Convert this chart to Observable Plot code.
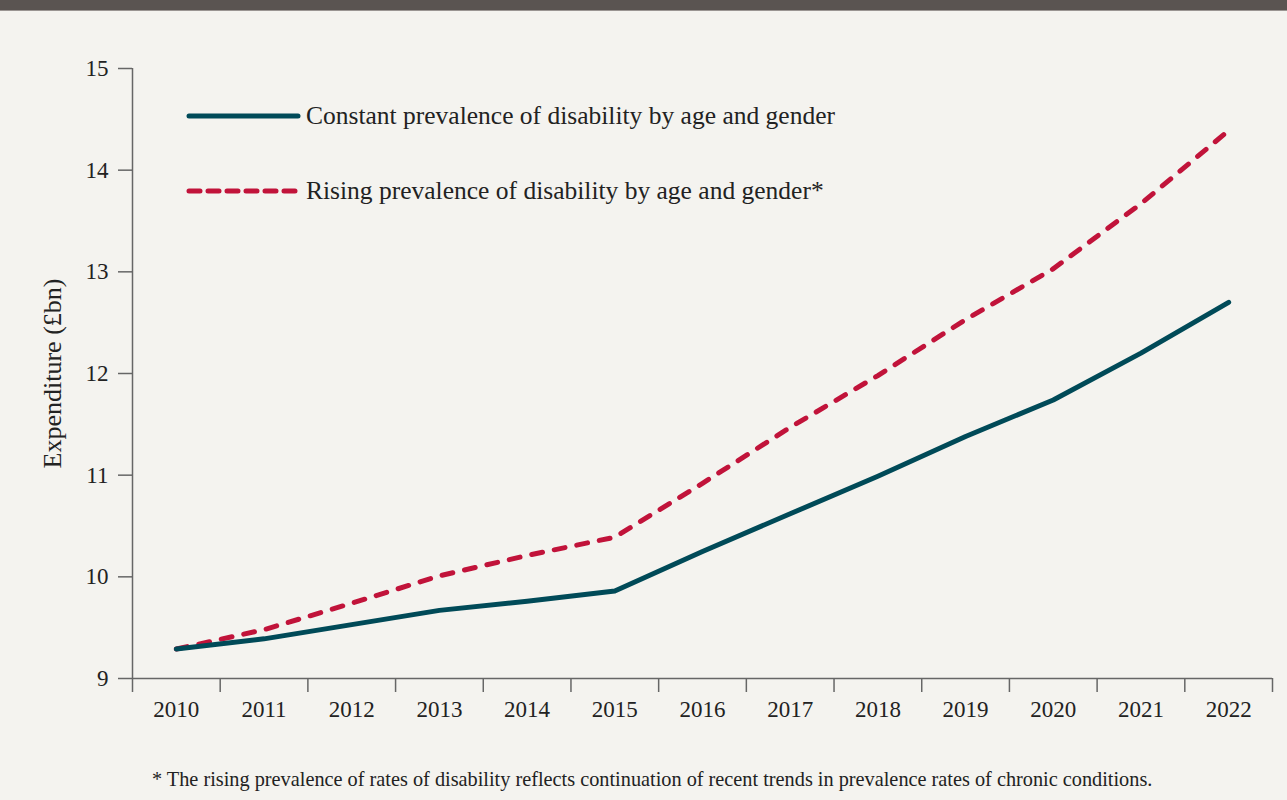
<!DOCTYPE html>
<html>
<head>
<meta charset="utf-8">
<script src="https://cdn.jsdelivr.net/npm/d3@7"></script>
<script src="https://cdn.jsdelivr.net/npm/@observablehq/plot@0.6"></script>
<style>
  html, body { margin: 0; padding: 0; background: #f4f3ef; width: 1287px; height: 800px; overflow: hidden; }
  #topbar { position: absolute; left: 0; top: 0; width: 1287px; height: 10px; background: #5a5451; border-bottom: 1px solid #9a9592; z-index: 2; }
  #chart { position: absolute; left: 0; top: 0; }
  #legend { position: absolute; left: 0; top: 0; font-family: "Liberation Serif", serif; font-size: 25.5px; color: #222; }
  .leg { position: absolute; left: 186px; height: 30px; display: flex; align-items: center; white-space: nowrap; }
  .leg svg { margin-right: 4px; }
  #note { position: absolute; left: 152px; top: 768px; font-family: "Liberation Serif", serif; font-size: 20.3px; color: #222; white-space: nowrap; }
</style>
</head>
<body>
<div id="topbar"></div>
<div id="chart"></div>
<div id="legend"></div>
<div id="note"></div>
<script>
const years = [2010, 2011, 2012, 2013, 2014, 2015, 2016, 2017, 2018, 2019, 2020, 2021, 2022];
const constantValues = [9.29, 9.39, 9.53, 9.67, 9.76, 9.86, 10.25, 10.62, 10.99, 11.38, 11.74, 12.20, 12.70];
const risingValues   = [9.29, 9.48, 9.74, 10.01, 10.21, 10.39, 10.92, 11.47, 11.98, 12.53, 13.03, 13.67, 14.39];
const yTicks = [9, 10, 11, 12, 13, 14, 15];
const seriesNames = ["Constant prevalence of disability by age and gender", "Rising prevalence of disability by age and gender*"];
const yLabel = "Expenditure (£bn)";
const footnote = "* The rising prevalence of rates of disability reflects continuation of recent trends in prevalence rates of chronic conditions.";

const teal = "#004a58";
const red = "#c1133a";
const axisColor = "#666";

const boundaries = years.map(y => y - 0.5).concat([years[years.length - 1] + 0.5]);
const constantData = years.map((year, i) => ({year, value: constantValues[i]}));
const risingData = years.map((year, i) => ({year, value: risingValues[i]}));

const chart = Plot.plot({
  width: 1287,
  height: 740,
  marginLeft: 132,
  marginRight: 15,
  marginTop: 68,
  marginBottom: 62,
  style: {background: "transparent", fontFamily: "Liberation Serif, serif", fontSize: "23px", color: "#222"},
  x: {domain: [boundaries[0], boundaries[boundaries.length - 1]]},
  y: {domain: [yTicks[0], yTicks[yTicks.length - 1]]},
  marks: [
    Plot.axisY({ticks: yTicks, tickSize: 14, tickPadding: 10, tickFormat: d => String(d), stroke: axisColor, strokeOpacity: 1, strokeWidth: 1.5, label: null}),
    Plot.axisX({ticks: years, tickSize: 0, tickPadding: 22, tickFormat: d => String(d), label: null}),
    Plot.axisX({ticks: boundaries, tickSize: 14, tickFormat: () => "", stroke: axisColor, strokeOpacity: 1, strokeWidth: 1.5, label: null}),
    Plot.ruleX([boundaries[0]], {y1: yTicks[0], y2: yTicks[yTicks.length - 1], stroke: axisColor, strokeWidth: 1.5}),
    Plot.ruleY([yTicks[0]], {stroke: axisColor, strokeWidth: 1.5}),
    Plot.text([yLabel], {frameAnchor: "left", textAnchor: "middle", rotate: -90, dx: -80, fontSize: 26, fill: "#222"}),
    Plot.line(risingData, {x: "year", y: "value", stroke: red, strokeWidth: 5, strokeDasharray: "11,12", strokeLinecap: "round", strokeLinejoin: "round"}),
    Plot.line(constantData, {x: "year", y: "value", stroke: teal, strokeWidth: 5, strokeLinecap: "round", strokeLinejoin: "round"})
  ]
});
document.getElementById("chart").appendChild(chart);

const legend = document.getElementById("legend");
const legendItems = [
  {name: seriesNames[0], color: teal, dashed: false, top: 101},
  {name: seriesNames[1], color: red, dashed: true, top: 176}
];
for (const item of legendItems) {
  const row = document.createElement("div");
  row.className = "leg";
  row.style.top = item.top + "px";
  row.innerHTML = `<svg width="116" height="10"><line x1="3" y1="5" x2="112" y2="5" stroke="${item.color}" stroke-width="5" stroke-linecap="round" ${item.dashed ? 'stroke-dasharray="11,8"' : ''}/></svg><span>${item.name}</span>`;
  legend.appendChild(row);
}
document.getElementById("note").textContent = footnote;
</script>
</body>
</html>
